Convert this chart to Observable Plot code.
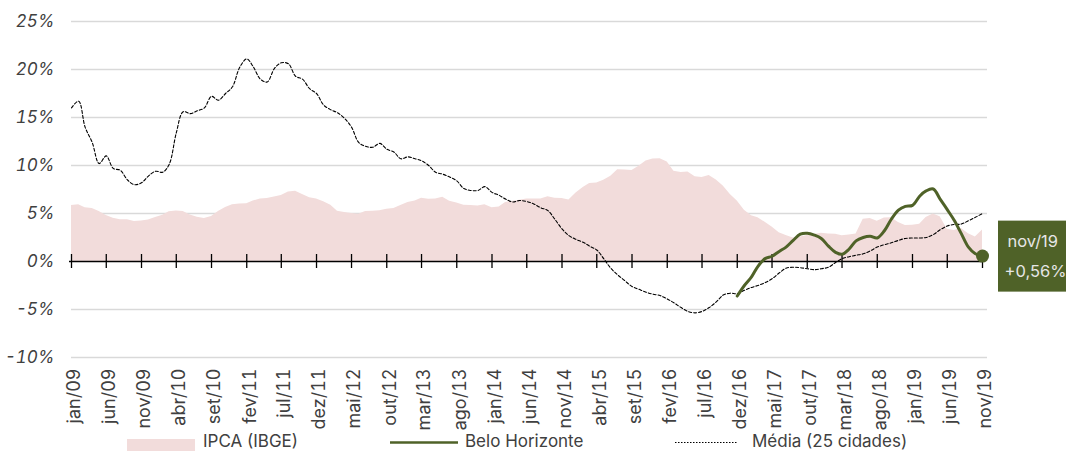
<!DOCTYPE html>
<html><head><meta charset="utf-8">
<script src="https://cdn.jsdelivr.net/npm/d3@7"></script>
<script src="https://cdn.jsdelivr.net/npm/@observablehq/plot@0.6"></script>
<style>
body{margin:0;background:#fff}
#wrap{position:relative;width:1066px;height:451px;overflow:hidden}
#chart svg{display:block}
#legend{display:block}
</style></head><body><div id="wrap"><div id="chart"></div><svg id="legend" width="1066" height="21"></svg></div>
<script>
const FONT = "Inter, 'Noto Sans', sans-serif";
const monthNames = ["jan","fev","mar","abr","mai","jun","jul","ago","set","out","nov","dez"];
// IPCA (IBGE), 12-month, jan/09 .. nov/19
const ipca = [5.84,5.90,5.61,5.53,5.20,4.80,4.50,4.36,4.34,4.17,4.22,4.31,
4.59,4.83,5.17,5.26,5.22,4.84,4.60,4.49,4.70,5.20,5.63,5.91,
5.99,6.01,6.30,6.51,6.55,6.71,6.87,7.23,7.31,6.97,6.64,6.50,
6.22,5.85,5.24,5.10,4.99,4.92,5.20,5.24,5.28,5.45,5.53,5.84,
6.15,6.31,6.59,6.49,6.50,6.70,6.27,6.09,5.86,5.84,5.77,5.91,
5.59,5.68,6.15,6.28,6.37,6.52,6.50,6.51,6.75,6.59,6.56,6.41,
7.14,7.70,8.13,8.17,8.47,8.89,9.56,9.53,9.49,9.93,10.48,10.67,
10.71,10.36,9.39,9.28,9.32,8.84,8.74,8.97,8.48,7.87,6.99,6.29,
5.35,4.76,4.57,4.08,3.60,3.00,2.71,2.46,2.54,2.70,2.80,2.95,
2.86,2.84,2.68,2.76,2.86,4.39,4.48,4.19,4.53,4.56,4.05,3.75,
3.78,3.89,4.58,4.94,4.66,3.37,3.22,3.43,2.89,2.54,3.27];
// Média (25 cidades), jan/09 .. nov/19
const media = [16.0,16.7,14.0,12.4,10.2,11.0,9.7,9.5,8.5,8.0,8.2,8.9,
9.4,9.3,10.1,13.4,15.6,15.4,15.7,16.0,17.2,16.8,17.5,18.2,
20.2,21.1,20.3,19.0,18.7,20.1,20.7,20.6,19.3,19.0,18.0,17.5,
16.3,15.8,15.5,14.9,14.0,12.4,12.0,11.9,12.3,11.7,11.4,10.7,
10.9,10.7,10.5,10.0,9.3,9.1,8.8,8.4,7.6,7.4,7.4,7.8,
7.2,6.9,6.5,6.2,6.35,6.25,6.0,5.6,5.3,4.4,3.4,2.7,
2.3,2.0,1.6,1.2,0.3,-0.7,-1.4,-2.0,-2.6,-2.9,-3.2,-3.4,
-3.55,-3.9,-4.3,-4.8,-5.2,-5.35,-5.2,-4.8,-4.2,-3.5,-3.3,-3.35,
-3.0,-2.7,-2.5,-2.2,-1.8,-1.2,-0.7,-0.6,-0.65,-0.75,-0.85,-0.75,
-0.6,-0.1,0.3,0.5,0.65,0.8,1.1,1.5,1.75,1.95,2.2,2.4,
2.45,2.45,2.5,2.8,3.3,3.7,3.85,3.9,4.25,4.6,5.0];
// Belo Horizonte, dez/16 .. nov/19
const bhStartIndex = 95;
const bh = [-3.6,-2.5,-1.6,-0.5,0.3,0.55,1.05,1.5,2.2,2.85,2.95,2.75,
2.4,1.6,0.95,0.75,1.3,2.15,2.5,2.62,2.45,3.2,4.4,5.35,
5.75,5.85,6.8,7.35,7.55,6.5,5.4,4.3,2.9,1.5,0.8,0.56];
const yTicks = [-10,-5,0,5,10,15,20,25];
const xTickEvery = 5;
const seriesNames = ["IPCA (IBGE)","Belo Horizonte","Média (25 cidades)"];
const colors = {ipca:"#f2dcdb", bh:"#4f6228", media:"#000000", grid:"#d9d9d9", text:"#404040"};

const date = i => new Date(Date.UTC(2009, i, 1));
const fmt = d => `${monthNames[d.getUTCMonth()]}/${String(d.getUTCFullYear()).slice(2)}`;
const ipcaData = ipca.map((v,i)=>({date:date(i), v}));
const mediaData = media.map((v,i)=>({date:date(i), v}));
const bhData = bh.map((v,i)=>({date:date(bhStartIndex+i), v}));
const n = ipca.length;
const first = date(0), lastDate = date(n-1);
const xTicks = d3.range(0, n, xTickEvery).map(date);
const last = bhData[bhData.length-1];

const plot = Plot.plot({
  width:1066, height:430,
  marginLeft:71, marginRight:84, marginTop:21, marginBottom:73,
  style:{fontFamily:FONT, background:"#fff"},
  x:{type:"utc", domain:[first, lastDate], label:null},
  y:{domain:[-10,25], label:null},
  marks:[
    Plot.ruleY(yTicks.filter(d=>d!==0), {x1:()=>first, x2:()=>lastDate, stroke:colors.grid, strokeWidth:1.5, insetRight:-5}),
    Plot.areaY(ipcaData, {x:"date", y:"v", fill:colors.ipca}),
    Plot.ruleY([0], {x1:()=>first, x2:()=>lastDate, stroke:"#000", strokeWidth:1.5, insetLeft:-2, insetRight:-1}),
    Plot.ruleX(xTicks, {x:d=>d, y1:()=>0, y2:()=>0, insetTop:-7, insetBottom:-7, stroke:"#000", strokeWidth:1.3}),
    Plot.axisY(yTicks, {tickFormat:d=>`${d}%`, tickSize:0, tickPadding:17, fontSize:17, fontStyle:"italic", fill:colors.text, label:null}),
    Plot.axisX(xTicks, {tickFormat:fmt, tickRotate:-90, tickSize:0, tickPadding:11, fontSize:18, dx:3, fill:colors.text, label:null}),
    Plot.line(mediaData, {x:"date", y:"v", stroke:colors.media, strokeWidth:1.1, strokeDasharray:"3,2", curve:"catmull-rom"}),
    Plot.line(bhData, {x:"date", y:"v", stroke:colors.bh, strokeWidth:3, curve:"catmull-rom"}),
    Plot.dot([last], {x:"date", y:"v", r:6.5, fill:colors.bh}),
    Plot.rect([last], {x1:"date", x2:"date", y1:"v", y2:"v", insetLeft:16, insetRight:-100, insetTop:-35, insetBottom:-36, fill:colors.bh}),
    Plot.text([last], {x:"date", y:"v", text:d=>fmt(d.date), dx:25, dy:-14.6, textAnchor:"start", fill:"#e6e6e6", fontSize:16.5}),
    Plot.text([last], {x:"date", y:"v", text:d=>`+${d.v.toFixed(2).replace(".",",")}%`, dx:22, dy:15.4, textAnchor:"start", fill:"#e6e6e6", fontSize:16.5})
  ]
});
document.getElementById("chart").appendChild(plot);

// legend
const lg = d3.select("#legend").style("font-family", FONT);
lg.append("rect").attr("x",127).attr("y",9).attr("width",68).attr("height",12).attr("fill",colors.ipca);
lg.append("text").attr("x",203).attr("y",16.5).attr("font-size",17).attr("fill",colors.text).text(seriesNames[0]);
lg.append("line").attr("x1",390).attr("x2",458).attr("y1",12.5).attr("y2",12.5).attr("stroke",colors.bh).attr("stroke-width",2.5);
lg.append("text").attr("x",465).attr("y",16.5).attr("font-size",17).attr("fill",colors.text).text(seriesNames[1]);
lg.append("line").attr("x1",675).attr("x2",737).attr("y1",12.5).attr("y2",12.5).attr("stroke","#000").attr("stroke-width",1).attr("stroke-dasharray","1.5,1.5");
lg.append("text").attr("x",752).attr("y",16.5).attr("font-size",17).attr("fill",colors.text).text(seriesNames[2]);
</script></body></html>
